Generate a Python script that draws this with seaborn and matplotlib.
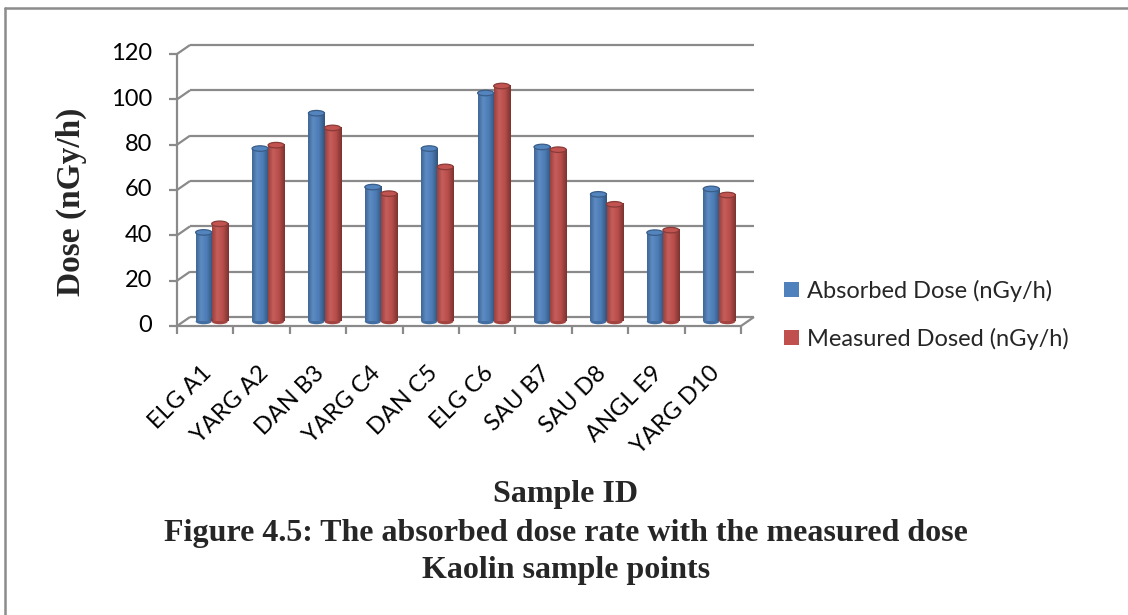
import numpy as np
import pandas as pd
import matplotlib
matplotlib.use("Agg")
import matplotlib.pyplot as plt
import seaborn as sns
from matplotlib.patches import Ellipse
from matplotlib.lines import Line2D
from matplotlib.colors import LinearSegmentedColormap, to_rgb

# ---- data -------------------------------------------------------------
samples = ["ELG A1", "YARG A2", "DAN B3", "YARG C4", "DAN C5",
           "ELG C6", "SAU B7", "SAU D8", "ANGL E9", "YARG D10"]
absorbed = [39.3, 76.3, 91.9, 59.3, 76.3, 100.8, 77.0, 56.1, 39.2, 58.5]
measured = [43.1, 77.8, 85.4, 56.4, 68.2, 103.9, 75.8, 51.7, 40.3, 55.8]
series_names = ["Absorbed Dose (nGy/h)", "Measured Dosed (nGy/h)"]
y_ticks = [0, 20, 40, 60, 80, 100, 120]

df = pd.DataFrame({
    "Sample": samples * 2,
    "Dose": absorbed + measured,
    "Series": [series_names[0]] * len(samples) + [series_names[1]] * len(samples),
})

# ---- style ------------------------------------------------------------
sns.set_theme(style="white")
plt.rcParams["font.family"] = ["Lato", "DejaVu Sans"]
SERIF = ["Liberation Serif", "DejaVu Serif"]
FS = 17
BLUE, RED = "#4F81BD", "#C0504D"
GRID = "#8A8A8A"

W, H = 1128, 615
fig = plt.figure(figsize=(W / 100, H / 100), dpi=100)

# plot box sits at the middle depth of the pseudo 3-D floor
left_px, right_px, bottom_px, top_px = 183.5, 747.5, 321.5, 49.5
ax = fig.add_axes([left_px / W, 1 - bottom_px / H,
                   (right_px - left_px) / W, (bottom_px - top_px) / H])

sns.barplot(data=df, x="Sample", y="Dose", hue="Series",
            palette=[BLUE, RED], width=0.57, gap=0, saturation=1,
            linewidth=0, ax=ax, zorder=3)

n = len(samples)
ax.set_xlim(-0.5, n - 0.5)
ax.set_ylim(0, 120)
for s in ax.spines.values():
    s.set_visible(False)
ax.set_xticks([])
ax.set_yticks([])
ax.set_xlabel("")
ax.set_ylabel("")
ax.patch.set_alpha(0)

# pixel -> data conversions for the depth offsets
px_x = (right_px - left_px) / n
px_y = (bottom_px - top_px) / 120
dx = 6.5 / px_x
dy = 4.5 / px_y
line_kw = dict(color=GRID, lw=1.6, clip_on=False, solid_capstyle="butt")

# back wall gridlines and their links to the front axis
for v in y_ticks:
    ax.plot([-0.5 + dx, n - 0.5 + dx], [v + dy, v + dy], zorder=1, **line_kw)
    ax.plot([-0.5 - dx, -0.5 + dx], [v - dy, v + dy], zorder=1, **line_kw)
    ax.plot([-0.5 - dx - 8 / px_x, -0.5 - dx], [v - dy, v - dy], zorder=1, **line_kw)
    ax.text(-0.5 - dx - 25 / px_x, v - dy, str(v), ha="right", va="center",
            fontsize=FS, color="black")

# front axis and floor edges
ax.plot([-0.5 - dx, -0.5 - dx], [-dy, 120 - dy], zorder=1, **line_kw)
ax.plot([-0.5 - dx, n - 0.5 - dx], [-dy, -dy], zorder=1, **line_kw)
ax.plot([n - 0.5 - dx, n - 0.5 + dx], [-dy, dy], zorder=1, **line_kw)
for k in range(n + 1):
    ax.plot([k - 0.5 - dx, k - 0.5 - dx], [-dy, -dy - 8 / px_y], zorder=1, **line_kw)

# category labels
for i, name in enumerate(samples):
    ax.text(i - dx + 3 / px_x, -dy - 44 / px_y, name, rotation=45,
            ha="right", va="center", rotation_mode="anchor",
            fontsize=FS, color="black", clip_on=False)

# cylinder shading on each bar
def shade(c, f):
    r, g, b = to_rgb(c)
    if f >= 1:
        return tuple(x + (1 - x) * (f - 1) for x in (r, g, b))
    return (r * f, g * f, b * f)

cap_h = 5.5 / px_y
bars = list(ax.patches)
for p in bars:
    x0, w, h = p.get_x(), p.get_width(), p.get_height()
    base = p.get_facecolor()[:3]
    cmap = LinearSegmentedColormap.from_list(
        "cyl", [(0.0, shade(base, 0.80)), (0.3, shade(base, 1.08)),
                (0.65, shade(base, 0.96)), (1.0, shade(base, 0.64))])
    grad = np.linspace(0, 1, 64)[None, :]
    ax.imshow(grad, extent=[x0, x0 + w, 0, h], aspect="auto", cmap=cmap,
              interpolation="bilinear", zorder=3.1, origin="lower")
    ax.add_patch(Ellipse((x0 + w / 2, 0), w, cap_h, facecolor=shade(base, 0.85),
                         edgecolor="none", zorder=3.0, clip_on=False))
    ax.add_patch(Ellipse((x0 + w / 2, h), w, cap_h, facecolor=shade(base, 1.02),
                         edgecolor=shade(base, 0.72), lw=0.9, zorder=3.3))
ax.set_xlim(-0.5, n - 0.5)
ax.set_ylim(0, 120)

# legend
handles, labels = ax.get_legend_handles_labels()
ax.legend(handles, labels, loc="center left",
          bbox_to_anchor=(784 / W, 1 - 314.5 / H), bbox_transform=fig.transFigure,
          frameon=False, fontsize=FS, handlelength=0.62, handleheight=0.62,
          handletextpad=0.35, labelspacing=1.1, borderpad=0, borderaxespad=0)

# axis titles and caption
fig.text(71 / W, 1 - 202 / H, "Dose (nGy/h)", rotation=90, ha="center",
         va="center", fontsize=24, fontweight="bold", family=SERIF)
fig.text(566 / W, 1 - 502 / H, "Sample ID", ha="center", va="baseline",
         fontsize=23, fontweight="bold", family=SERIF)
fig.text(566 / W, 1 - 541 / H,
         "Figure 4.5: The absorbed dose rate with the measured dose",
         ha="center", va="baseline", fontsize=23, fontweight="bold", family=SERIF)
fig.text(566 / W, 1 - 578 / H, "Kaolin sample points", ha="center",
         va="baseline", fontsize=23, fontweight="bold", family=SERIF)

# outer frame (top and left edges)
frame_kw = dict(color="#8C8C8C", lw=1.8, transform=fig.transFigure)
fig.add_artist(Line2D([4.5 / W, 4.5 / W], [0, 1 - 7.5 / H], **frame_kw))
fig.add_artist(Line2D([4.5 / W, 1], [1 - 7.5 / H, 1 - 7.5 / H], **frame_kw))

fig.savefig("out.png", dpi=100, facecolor="white")
